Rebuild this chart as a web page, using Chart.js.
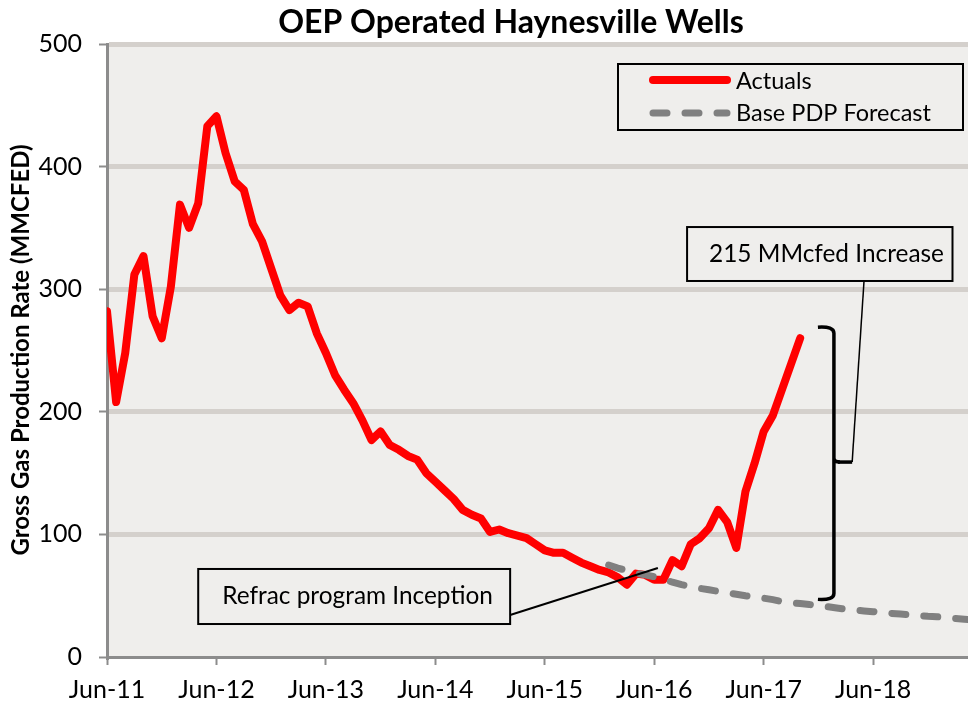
<!DOCTYPE html>
<html>
<head>
<meta charset="utf-8">
<title>OEP Operated Haynesville Wells</title>
<script src="https://cdn.jsdelivr.net/npm/chart.js@4.4.1/dist/chart.umd.min.js"></script>
<style>
  html, body { margin: 0; padding: 0; background: #fff; }
  #wrap { width: 968px; height: 703px; }
</style>
</head>
<body>
<div id="wrap"><canvas id="prodChart"></canvas></div>
<script>
// x = months counted from Jun-11 (0 = Jun-11)
const tickLabels = ['Jun-11', 'Jun-12', 'Jun-13', 'Jun-14', 'Jun-15', 'Jun-16', 'Jun-17', 'Jun-18'];
const monthsMax = 94.4;

// Actuals, monthly from Jun-11
const actuals = [
  282, 208, 248, 312, 327, 278, 260, 302, 369, 350, 370, 433,
  441, 411, 388, 381, 353, 339, 317, 295, 283, 289, 286, 264,
  248, 230, 218, 207, 193, 177, 184, 173, 169, 164, 161, 150,
  143, 136, 129, 120, 116, 113, 102, 104, 101, 99, 97, 92,
  87, 85, 85, 81, 77, 74, 71, 69, 65, 59, 68, 67,
  63, 63, 79, 74, 92, 97, 105, 120, 110, 89, 135, 158,
  184, 197, 218, 239, 260
];

// Base PDP forecast, monthly from Jan-16 (month 55)
const forecastStart = 55;
const forecast = [
  75, 72.5, 70.5, 68.5, 67, 65.5, 63.5, 61, 59, 57.5,
  56, 54.8, 53.6, 52.4, 51.2, 50, 49, 48, 46.8, 45.2,
  44.4, 43.6, 42.8, 42, 41, 40, 39, 38.3, 37.6, 37,
  36.2, 35.6, 35, 34.4, 33.8, 33.2, 32.8, 32.2, 31.4, 30.8, 30.2
];

const grey = '#8c8c8c';
const FONT = 'Lato';

const decor = {
  id: 'decor',
  beforeDraw(chart) {
    const { ctx, chartArea: a } = chart;
    ctx.save();
    ctx.fillStyle = '#efeeec';
    ctx.fillRect(a.left, a.top, a.right - a.left, a.bottom - a.top);
    ctx.restore();
  },
  afterDraw(chart) {
    const { ctx } = chart;
    const xs = chart.scales.x, ys = chart.scales.y;
    const px = m => xs.getPixelForValue(m);
    const py = v => ys.getPixelForValue(v);
    ctx.save();

    // title
    ctx.fillStyle = '#000';
    ctx.font = 'bold 32px ' + FONT;
    ctx.textAlign = 'center';
    ctx.textBaseline = 'middle';
    ctx.fillText('OEP Operated Haynesville Wells', 511, 23);

    // y axis title
    ctx.save();
    ctx.translate(21, 350);
    ctx.rotate(-Math.PI / 2);
    ctx.font = 'bold 24px ' + FONT;
    ctx.fillText('Gross Gas Production Rate (MMCFED)', 0, 0);
    ctx.restore();

    // legend
    ctx.strokeStyle = '#000';
    ctx.lineWidth = 2;
    ctx.strokeRect(618, 64, 345, 66);
    ctx.lineCap = 'round';
    ctx.lineWidth = 8;
    ctx.strokeStyle = '#ff0000';
    ctx.beginPath(); ctx.moveTo(653, 80); ctx.lineTo(727, 80); ctx.stroke();
    ctx.strokeStyle = '#808080';
    ctx.lineWidth = 7;
    ctx.setLineDash([14, 18]);
    ctx.beginPath(); ctx.moveTo(653, 113); ctx.lineTo(727, 113); ctx.stroke();
    ctx.setLineDash([]);
    ctx.lineCap = 'butt';
    ctx.fillStyle = '#000';
    ctx.font = '23.5px ' + FONT;
    ctx.textAlign = 'left';
    ctx.fillText('Actuals', 736, 81);
    ctx.fillText('Base PDP Forecast', 736, 113);

    // refrac callout
    ctx.font = '24.4px ' + FONT;
    ctx.lineWidth = 2;
    ctx.strokeStyle = '#000';
    ctx.strokeRect(px(10), py(71.8), px(44.2) - px(10), py(26.9) - py(71.8));
    ctx.fillText('Refrac program Inception', px(10) + 24, (py(71.8) + py(26.9)) / 2);
    ctx.beginPath();
    ctx.moveTo(px(44.2), py(34.3));
    ctx.lineTo(px(60.4), py(72.6));
    ctx.stroke();

    // increase callout
    ctx.strokeRect(px(63.6), py(350.7), px(92.7) - px(63.6), py(306.7) - py(350.7));
    ctx.fillText('215 MMcfed Increase', px(63.6) + 22, (py(350.7) + py(306.7)) / 2);

    // bracket
    const bx = px(79.7), bt = py(269), bm = py(159), bb = py(47);
    ctx.lineWidth = 3.5;
    ctx.lineJoin = 'round';
    ctx.beginPath();
    ctx.moveTo(bx - 16, bt);
    ctx.quadraticCurveTo(bx, bt - 1, bx, bt + 6);
    ctx.lineTo(bx, bm - 4);
    ctx.quadraticCurveTo(bx, bm, bx + 6, bm);
    ctx.moveTo(bx, bm - 4);
    ctx.lineTo(bx, bm + 4);
    ctx.lineTo(bx, bb - 6);
    ctx.quadraticCurveTo(bx, bb + 1, bx - 16, bb);
    ctx.stroke();
    ctx.beginPath();
    ctx.moveTo(bx + 4, bm);
    ctx.lineTo(px(81.7), bm);
    ctx.stroke();
    ctx.lineWidth = 1.5;
    ctx.beginPath();
    ctx.moveTo(px(81.7), bm);
    ctx.lineTo(px(83), py(306.7));
    ctx.stroke();

    ctx.restore();
  }
};

Chart.defaults.font.family = FONT;
Chart.defaults.font.size = 25;
Chart.defaults.color = '#000';

new Chart(document.getElementById('prodChart'), {
  type: 'line',
  data: {
    datasets: [
      {
        label: 'Base PDP Forecast',
        data: forecast.map((v, i) => ({ x: forecastStart + i, y: v })),
        borderColor: '#808080',
        borderWidth: 7,
        borderDash: [14, 18],
        borderCapStyle: 'round',
        pointRadius: 0,
        tension: 0,
        order: 1
      },
      {
        label: 'Actuals',
        data: actuals.map((v, i) => ({ x: i, y: v })),
        borderColor: '#ff0000',
        borderWidth: 8,
        borderJoinStyle: 'round',
        borderCapStyle: 'round',
        pointRadius: 0,
        tension: 0,
        order: 2
      }
    ]
  },
  options: {
    responsive: true,
    maintainAspectRatio: false,
    animation: false,
    layout: { padding: { top: 44, right: 0, left: 0, bottom: 0 } },
    plugins: {
      legend: { display: false },
      tooltip: { enabled: false }
    },
    scales: {
      x: {
        type: 'linear',
        min: 0,
        max: monthsMax,
        afterFit: s => { s.height = 46; },
        afterBuildTicks: s => { s.ticks = tickLabels.map((_, i) => ({ value: i * 12 })); },
        grid: { drawOnChartArea: false, tickColor: grey, tickWidth: 2, tickLength: 8 },
        border: { color: grey, width: 3 },
        ticks: { padding: 10, maxRotation: 0, callback: v => tickLabels[Math.round(v / 12)] }
      },
      y: {
        min: 0,
        max: 500,
        afterFit: s => { s.width = 107; },
        grid: {
          color: c => (c.tick && c.tick.value === 0 ? 'rgba(0,0,0,0)' : '#d4d0cc'),
          lineWidth: 5,
          tickColor: grey,
          tickWidth: 2,
          tickLength: 8
        },
        border: { color: grey, width: 3 },
        ticks: { stepSize: 100, padding: 17 }
      }
    }
  },
  plugins: [decor]
});
</script>
</body>
</html>
